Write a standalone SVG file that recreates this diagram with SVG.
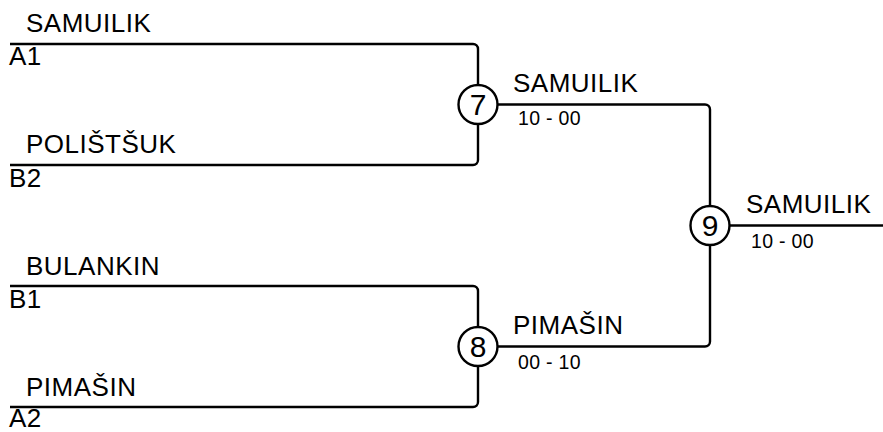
<svg xmlns="http://www.w3.org/2000/svg" width="883" height="432" viewBox="0 0 883 432">
<style>
.ln{fill:none;stroke:#000;stroke-width:2.4}
.nd{fill:#fff;stroke:#000;stroke-width:2.4}
.t{font-family:"Liberation Sans",Arial,sans-serif;font-size:26px;letter-spacing:0.5px;fill:#000}
.s{font-family:"Liberation Sans",Arial,sans-serif;font-size:19.5px;letter-spacing:0.3px;fill:#000}
.n{font-family:"Liberation Sans",Arial,sans-serif;font-size:30px;fill:#000;text-anchor:middle}
</style>
<rect width="883" height="432" fill="#fff"/>
<g id="connectors">
<path class="ln" d="M10 44 H473 A5 5 0 0 1 478 49 V85"/>
<path class="ln" d="M10 165 H473 A5 5 0 0 0 478 160 V124"/>
<path class="ln" d="M10 286 H473 A5 5 0 0 1 478 291 V327"/>
<path class="ln" d="M10 407 H473 A5 5 0 0 0 478 402 V366"/>
<path class="ln" d="M497.5 104.5 H705 A5 5 0 0 1 710 109.5 V206"/>
<path class="ln" d="M497.5 346.5 H705 A5 5 0 0 0 710 341.5 V245"/>
<path class="ln" d="M729.5 225.5 H883"/>
</g>
<g id="entry-a1">
<text class="t" x="26" y="32">SAMUILIK</text>
<text class="t" x="9" y="65">A1</text>
</g>
<g id="entry-b2">
<text class="t" x="26" y="153">POLIŠTŠUK</text>
<text class="t" x="9" y="187">B2</text>
</g>
<g id="entry-b1">
<text class="t" x="26" y="275">BULANKIN</text>
<text class="t" x="9" y="308">B1</text>
</g>
<g id="entry-a2">
<text class="t" x="26" y="396">PIMAŠIN</text>
<text class="t" x="9" y="427">A2</text>
</g>
<g id="node-7">
<circle class="nd" cx="478" cy="104.5" r="19.5"/>
<text class="n" x="478" y="115">7</text>
<text class="t" x="513" y="92">SAMUILIK</text>
<text class="s" x="518" y="125">10 - 00</text>
</g>
<g id="node-8">
<circle class="nd" cx="478" cy="346.5" r="19.5"/>
<text class="n" x="478" y="357">8</text>
<text class="t" x="513" y="334">PIMAŠIN</text>
<text class="s" x="518" y="369">00 - 10</text>
</g>
<g id="node-9">
<circle class="nd" cx="710" cy="225.5" r="19.5"/>
<text class="n" x="710" y="236">9</text>
<text class="t" x="746" y="213">SAMUILIK</text>
<text class="s" x="751" y="248">10 - 00</text>
</g>
</svg>
